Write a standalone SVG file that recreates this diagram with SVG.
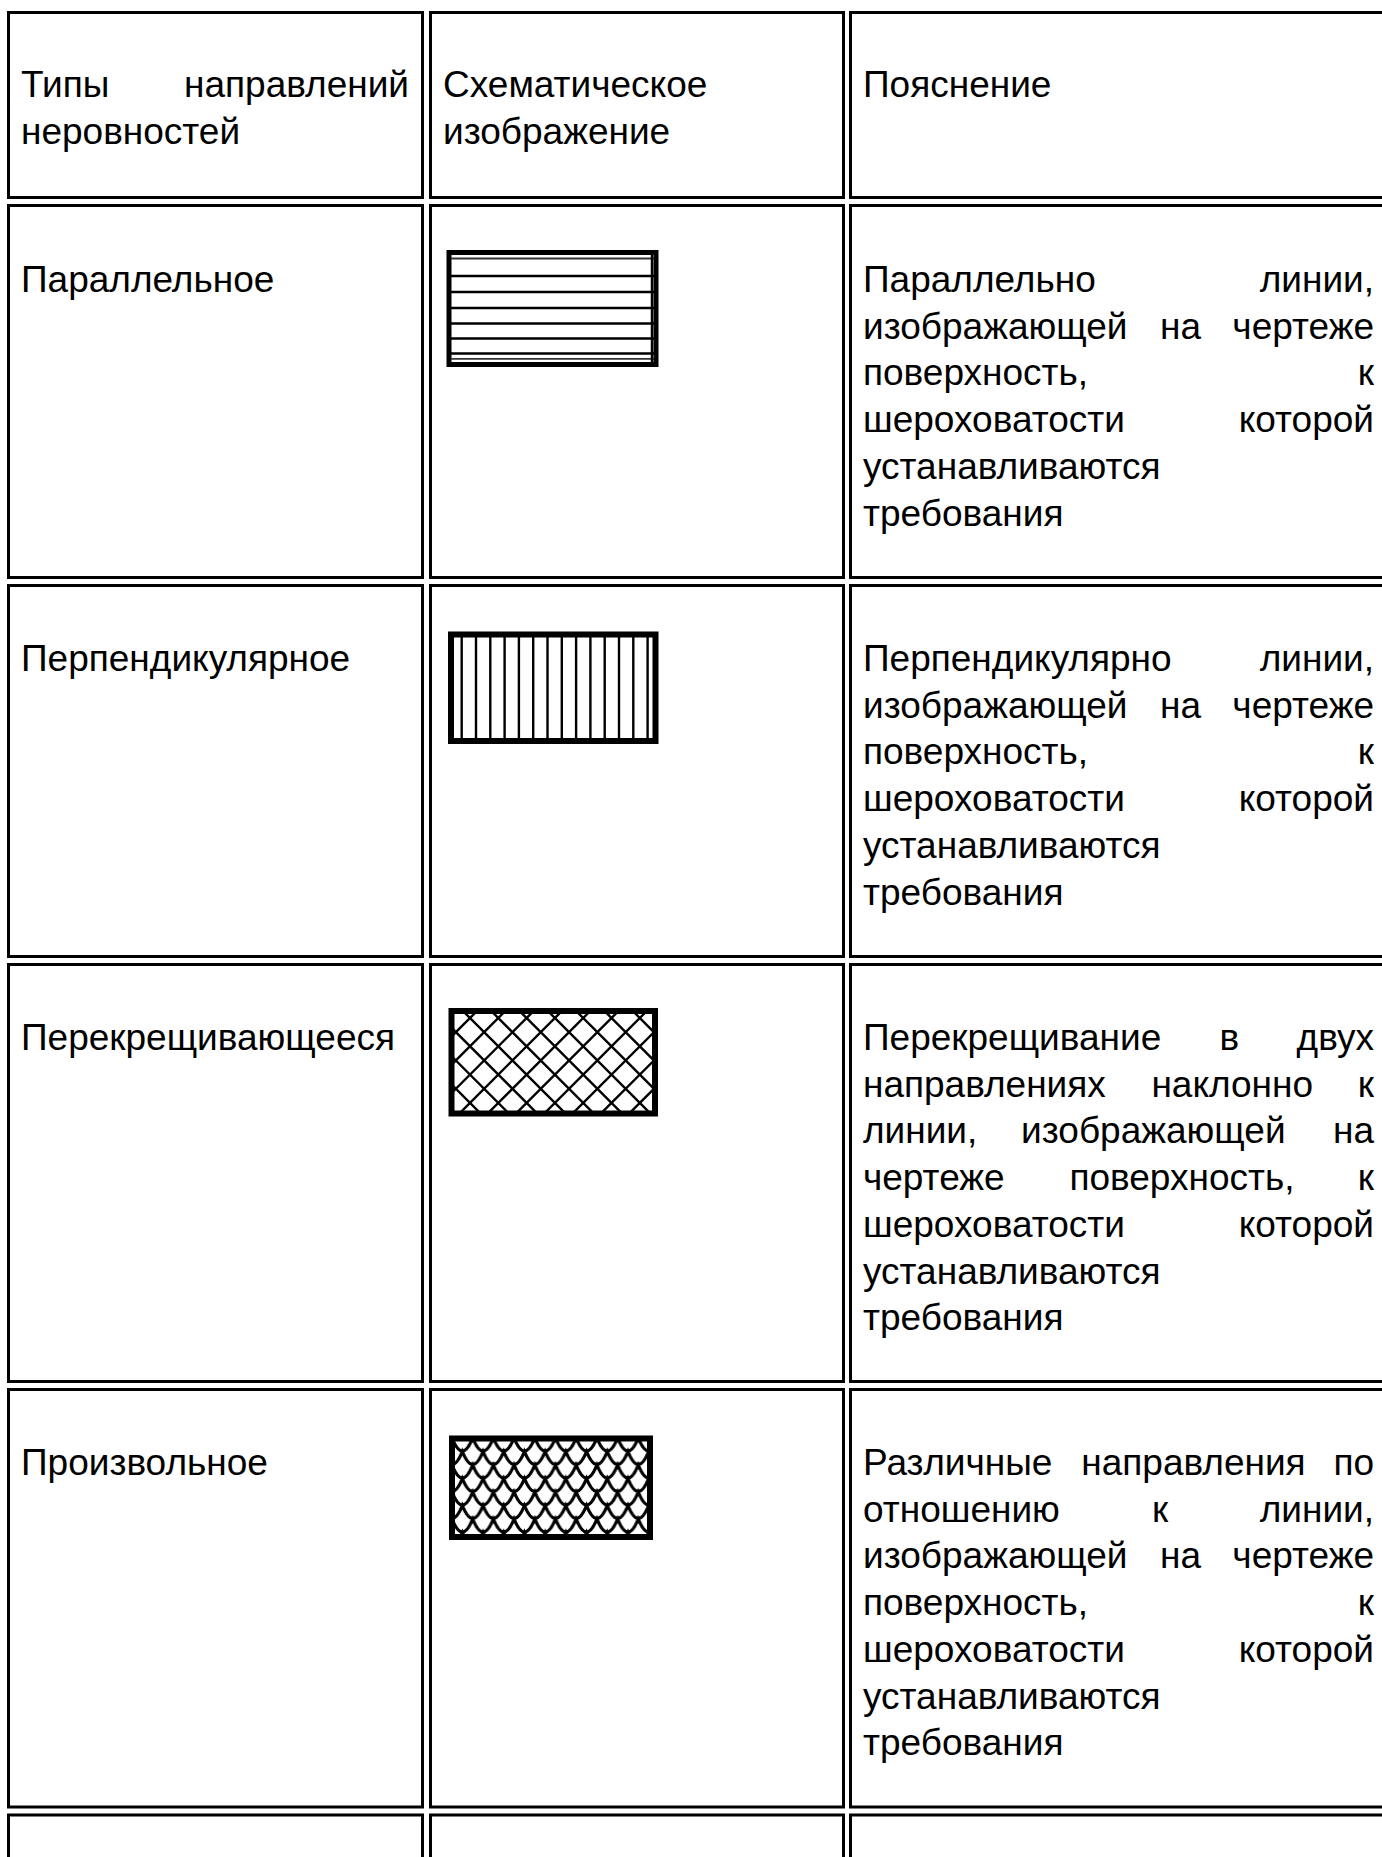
<svg xmlns="http://www.w3.org/2000/svg" width="1382" height="1857" viewBox="0 0 1382 1857">
<style>
.cell{fill:#fff;stroke:#000;stroke-width:3}
text{font-family:"Liberation Sans",Arial,sans-serif;font-size:37px;fill:#000}
.e{text-anchor:end}
.hl{stroke:#000;fill:none;stroke-width:2.4}
</style>
<defs>
<clipPath id="clipCross"><rect x="451.5" y="1011" width="203.5" height="102.5"/></clipPath>
<pattern id="scales" patternUnits="userSpaceOnUse" x="452" y="1438" width="20.7" height="27">
<g fill="none" stroke="#000" stroke-width="3.2">
<path d="M-10.35,-13.5 Q0,12.5 10.35,-13.5 Q20.7,12.5 31.05,-13.5"/>
<path d="M-20.7,0 Q-10.35,26 0,0 Q10.35,26 20.7,0 Q31.05,26 41.4,0"/>
<path d="M-10.35,13.5 Q0,39.5 10.35,13.5 Q20.7,39.5 31.05,13.5"/>
<path d="M-20.7,27 Q-10.35,53 0,27 Q10.35,53 20.7,27 Q31.05,53 41.4,27"/>
</g>
</pattern>
</defs>
<rect x="0" y="0" width="1382" height="1857" fill="#fff"/>

<!-- header row -->
<g id="head-types">
<rect class="cell" x="8.5" y="12.5" width="414" height="185"/>
<text x="21" y="97">Типы</text><text class="e" x="409" y="97">направлений</text>
<text x="21" y="143.7">неровностей</text>
</g>
<g id="head-schema">
<rect class="cell" x="430.5" y="12.5" width="413" height="185"/>
<text x="443" y="97">Схематическое</text>
<text x="443" y="143.7">изображение</text>
</g>
<g id="head-note">
<rect class="cell" x="850.5" y="12.5" width="545" height="185"/>
<text x="863" y="97">Пояснение</text>
</g>

<!-- row 1 -->
<g id="r1-type">
<rect class="cell" x="8.5" y="205.5" width="414" height="372"/>
<text x="21" y="292">Параллельное</text>
</g>
<g id="r1-schema">
<rect class="cell" x="430.5" y="205.5" width="413" height="372"/>
<rect x="449" y="252.5" width="207" height="112" fill="#fff" stroke="#000" stroke-width="5"/>
<line x1="451" y1="258.5" x2="654" y2="258.5" stroke="#333" stroke-width="1.8"/>
<path class="hl" stroke-width="2.8" d="M451,276H654M451,292H654M451,308H654M451,323.5H654M451,338.5H654M451,353.5H654"/>
<line x1="451" y1="358.8" x2="654" y2="358.8" stroke="#333" stroke-width="1.8"/>
<line x1="652" y1="252" x2="652" y2="365" stroke="#000" stroke-width="2.5"/>
</g>
<g id="r1-note">
<rect class="cell" x="850.5" y="205.5" width="545" height="372"/>
<text x="863" y="292">Параллельно</text><text class="e" x="1374" y="292">линии,</text>
<text x="863" y="338.7">изображающей</text><text x="1160" y="338.7">на</text><text class="e" x="1374" y="338.7">чертеже</text>
<text x="863" y="385.4">поверхность,</text><text class="e" x="1374" y="385.4">к</text>
<text x="863" y="432.1">шероховатости</text><text class="e" x="1374" y="432.1">которой</text>
<text x="863" y="478.8">устанавливаются</text>
<text x="863" y="525.5">требования</text>
</g>

<!-- row 2 -->
<g id="r2-type">
<rect class="cell" x="8.5" y="585.5" width="414" height="371"/>
<text x="21" y="671">Перпендикулярное</text>
</g>
<g id="r2-schema">
<rect class="cell" x="430.5" y="585.5" width="413" height="371"/>
<rect x="451" y="634.5" width="204.5" height="106.5" fill="#fff" stroke="#000" stroke-width="6"/>
<path class="hl" d="M461.7,636V740M476,636V740M490.3,636V740M504.6,636V740M518.9,636V740M533.2,636V740M547.5,636V740M561.8,636V740M576.1,636V740M590.4,636V740M604.7,636V740M619,636V740M633.3,636V740M647.6,636V740"/>
</g>
<g id="r2-note">
<rect class="cell" x="850.5" y="585.5" width="545" height="371"/>
<text x="863" y="671">Перпендикулярно</text><text class="e" x="1374" y="671">линии,</text>
<text x="863" y="717.7">изображающей</text><text x="1160" y="717.7">на</text><text class="e" x="1374" y="717.7">чертеже</text>
<text x="863" y="764.4">поверхность,</text><text class="e" x="1374" y="764.4">к</text>
<text x="863" y="811.1">шероховатости</text><text class="e" x="1374" y="811.1">которой</text>
<text x="863" y="857.8">устанавливаются</text>
<text x="863" y="904.5">требования</text>
</g>

<!-- row 3 -->
<g id="r3-type">
<rect class="cell" x="8.5" y="964.5" width="414" height="417"/>
<text x="21" y="1050">Перекрещивающееся</text>
</g>
<g id="r3-schema">
<rect class="cell" x="430.5" y="964.5" width="413" height="417"/>
<rect x="451.5" y="1011" width="203.5" height="102.5" fill="#fff"/>
<g clip-path="url(#clipCross)">
<path class="hl" stroke-width="2.8" d="M440,789.9L670,1019.9M440,818.2L670,1048.2M440,846.5L670,1076.5M440,874.8L670,1104.8M440,903.1L670,1133.1M440,931.4L670,1161.4M440,959.7L670,1189.7M440,988L670,1218M440,1016.3L670,1246.3M440,1044.6L670,1274.6M440,1072.9L670,1302.9M440,1101.2L670,1331.2"/>
<path class="hl" stroke-width="2.8" d="M440,1019.7L670,789.7M440,1048L670,818M440,1076.3L670,846.3M440,1104.6L670,874.6M440,1132.9L670,902.9M440,1161.2L670,931.2M440,1189.5L670,959.5M440,1217.8L670,987.8M440,1246.1L670,1016.1M440,1274.4L670,1044.4M440,1302.7L670,1072.7M440,1331L670,1101"/>
</g>
<rect x="451.5" y="1011" width="203.5" height="102.5" fill="none" stroke="#000" stroke-width="6"/>
</g>
<g id="r3-note">
<rect class="cell" x="850.5" y="964.5" width="545" height="417"/>
<text x="863" y="1050">Перекрещивание</text><text x="1219.4" y="1050">в</text><text class="e" x="1374" y="1050">двух</text>
<text x="863" y="1096.7">направлениях</text><text x="1151.4" y="1096.7">наклонно</text><text class="e" x="1374" y="1096.7">к</text>
<text x="863" y="1143.4">линии,</text><text x="1021.1" y="1143.4">изображающей</text><text class="e" x="1374" y="1143.4">на</text>
<text x="863" y="1190.1">чертеже</text><text x="1069.4" y="1190.1">поверхность,</text><text class="e" x="1374" y="1190.1">к</text>
<text x="863" y="1236.8">шероховатости</text><text class="e" x="1374" y="1236.8">которой</text>
<text x="863" y="1283.5">устанавливаются</text>
<text x="863" y="1330.2">требования</text>
</g>

<!-- row 4 -->
<g id="r4-type">
<rect class="cell" x="8.5" y="1389.5" width="414" height="417.5"/>
<text x="21" y="1475">Произвольное</text>
</g>
<g id="r4-schema">
<rect class="cell" x="430.5" y="1389.5" width="413" height="417.5"/>
<rect x="452" y="1438.5" width="198" height="98.5" fill="url(#scales)" stroke="#000" stroke-width="6"/>
</g>
<g id="r4-note">
<rect class="cell" x="850.5" y="1389.5" width="545" height="417.5"/>
<text x="863" y="1475">Различные</text><text x="1081.3" y="1475">направления</text><text class="e" x="1374" y="1475">по</text>
<text x="863" y="1521.7">отношению</text><text x="1152" y="1521.7">к</text><text class="e" x="1374" y="1521.7">линии,</text>
<text x="863" y="1568.4">изображающей</text><text x="1160" y="1568.4">на</text><text class="e" x="1374" y="1568.4">чертеже</text>
<text x="863" y="1615.1">поверхность,</text><text class="e" x="1374" y="1615.1">к</text>
<text x="863" y="1661.8">шероховатости</text><text class="e" x="1374" y="1661.8">которой</text>
<text x="863" y="1708.5">устанавливаются</text>
<text x="863" y="1755.2">требования</text>
</g>

<!-- row 5 (cut off) -->
<g id="r5-type"><rect class="cell" x="8.5" y="1815" width="414" height="80"/></g>
<g id="r5-schema"><rect class="cell" x="430.5" y="1815" width="413" height="80"/></g>
<g id="r5-note"><rect class="cell" x="850.5" y="1815" width="545" height="80"/></g>

<g id="connectors"></g>
</svg>
